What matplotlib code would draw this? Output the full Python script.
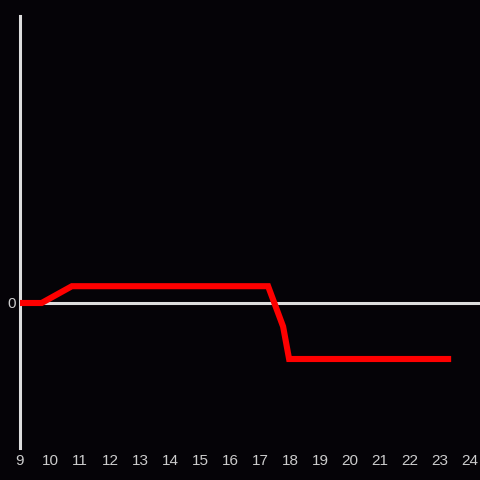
import matplotlib
matplotlib.use("Agg")
import matplotlib.pyplot as plt

hours = [9.0, 9.72, 10.73, 17.27, 17.77, 17.97, 23.27]
values = [0.0, 0.0, 0.3, 0.3, -0.42, -1.0, -1.0]
xticks = list(range(9, 25))
yticks = [0]

bg = "#050307"
fig = plt.figure(figsize=(4.8, 4.8), dpi=100, facecolor=bg)
ax = fig.add_axes([20/480, 32/480, 460/480, 432/480], facecolor=bg)
ax.plot(hours, values, color="#ff0000", linewidth=4.4, solid_joinstyle="miter", zorder=3)
ax.axhline(0, color="#dddddd", linewidth=2.2, zorder=2)
ax.set_xlim(9, 9 + 460/30)
ax.set_ylim(-145/56, 287/56)
for s in ["top", "right", "bottom"]:
    ax.spines[s].set_visible(False)
ax.spines["left"].set_color("#dddddd")
ax.spines["left"].set_linewidth(2.2)
ax.set_xticks(xticks)
ax.set_xticklabels([str(t) for t in xticks])
ax.set_yticks(yticks)
ax.set_yticklabels(["0"])
ax.tick_params(length=0, colors="#cccccc", labelsize=11, pad=5)
for lab in ax.get_xticklabels() + ax.get_yticklabels():
    lab.set_fontfamily("Liberation Sans")
    lab.set_color("#cccccc")
ax.tick_params(axis="y", pad=3)
ax.tick_params(axis="x", pad=4)
fig.savefig("out.png", dpi=100, facecolor=bg)
